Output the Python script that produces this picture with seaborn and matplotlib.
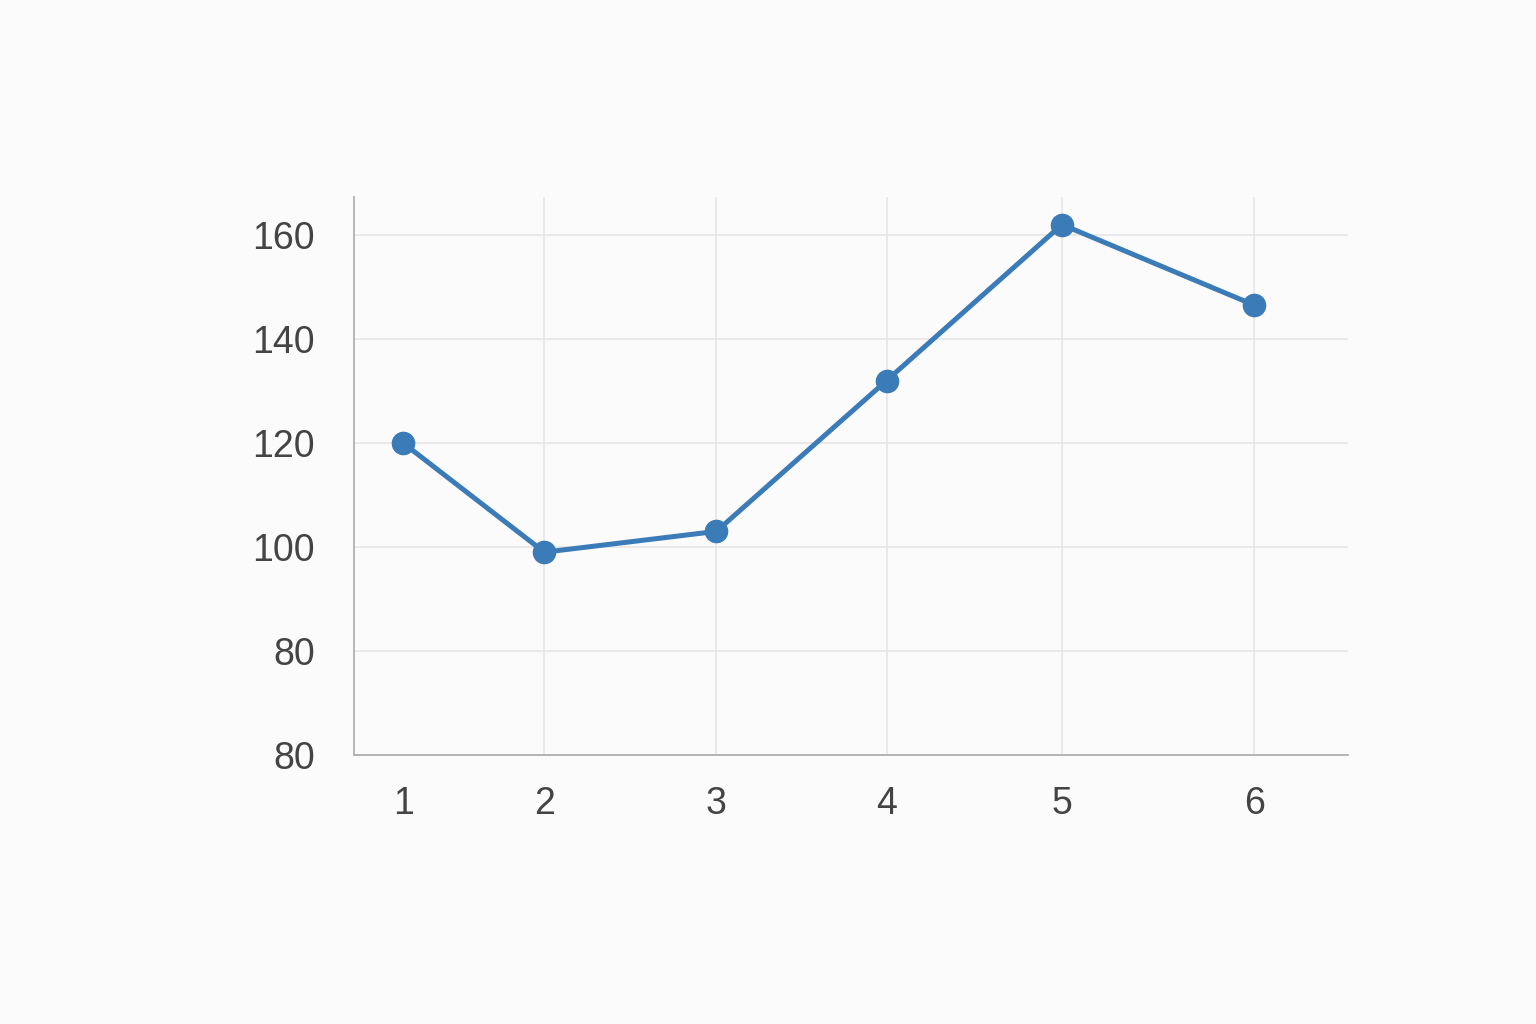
import seaborn as sns
import matplotlib.pyplot as plt
import pandas as pd

# values
x_pos = [1, 1.83, 2.84, 3.84, 4.87, 6]
x_labels = ['1', '2', '3', '4', '5', '6']
y_vals = [120, 99, 103, 132, 162, 146.5]
y_ticks = [60, 80, 100, 120, 140, 160]
y_labels = ['80', '80', '100', '120', '140', '160']

df = pd.DataFrame({'x': x_pos, 'y': y_vals})

sns.set_theme(style='white')
plt.rcParams['font.family'] = ['Liberation Sans', 'DejaVu Sans']

bg = '#fcfbfc'
fig = plt.figure(figsize=(15.36, 10.24), dpi=100, facecolor=bg)
ax = fig.add_axes([0.2305, 0.2627, 0.6471, 0.5449])
ax.set_facecolor(bg)

sns.lineplot(data=df, x='x', y='y', ax=ax, color='#3a7bb8', linewidth=3.6,
             marker='o', markersize=17, markeredgewidth=0, zorder=3)

ax.set_xlim(0.712, 6.55)
ax.set_ylim(60, 167.3)
ax.set_xticks(x_pos)
ax.set_xticklabels(x_labels)
ax.set_yticks(y_ticks)
ax.set_yticklabels(y_labels)
ax.grid(True, color='#e6e6e6', linewidth=1.2, zorder=0)
# no vertical gridline at the first point
ax.xaxis.get_major_ticks()[0].gridline.set_visible(False)

ax.tick_params(axis='x', length=0, pad=22, labelsize=27, labelcolor='#444444')
ax.tick_params(axis='y', length=0, pad=28, labelsize=27, labelcolor='#444444')
for lbl in ax.get_yticklabels():
    lbl.set_va('center_baseline')

ax.set_xlabel('')
ax.set_ylabel('')
for s in ['top', 'right']:
    ax.spines[s].set_visible(False)
for s in ['left', 'bottom']:
    ax.spines[s].set_color('#b0b0b0')
    ax.spines[s].set_linewidth(1.3)

fig.savefig('out.png', dpi=100, facecolor=bg)
